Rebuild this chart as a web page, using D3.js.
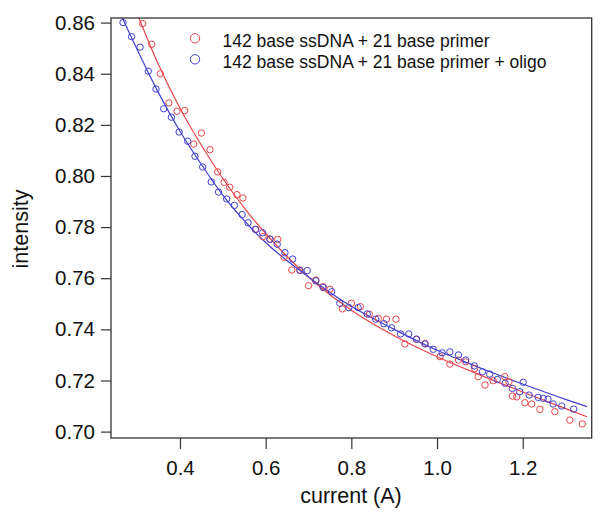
<!DOCTYPE html>
<html>
<head>
<meta charset="utf-8">
<script src="https://cdn.jsdelivr.net/npm/d3@7"></script>
<style>
  html, body { margin: 0; padding: 0; background: #fff; }
  svg { display: block; font-family: "Liberation Sans", Arial, sans-serif; }
</style>
</head>
<body>
<svg id="chart" width="602" height="517"></svg>
<script>
// ---- data ----
const seriesNames = ["142 base ssDNA + 21 base primer", "142 base ssDNA + 21 base primer + oligo"];

const redX = [0.313,0.334,0.354,0.374,0.393,0.411,0.432,0.450,0.470,0.488,0.503,0.516,0.533,0.547,0.577,0.594,0.610,0.628,0.643,0.661,0.680,0.700,0.717,0.734,0.750,0.779,0.800,0.821,0.842,0.863,0.882,0.904,0.925,0.952,0.972,1.007,1.030,1.050,1.067,1.088,1.096,1.112,1.131,1.158,1.168,1.176,1.186,1.205,1.221,1.240,1.275,1.310,1.339];
const redY = [0.8596,0.8515,0.8400,0.8286,0.8253,0.8256,0.8125,0.8168,0.8103,0.8016,0.7975,0.7956,0.7927,0.7914,0.7791,0.7763,0.7752,0.7752,0.7682,0.7632,0.7632,0.7571,0.7593,0.7567,0.7557,0.7480,0.7502,0.7489,0.7459,0.7443,0.7440,0.7440,0.7343,0.7361,0.7345,0.7293,0.7264,0.7280,0.7273,0.7247,0.7215,0.7182,0.7199,0.7215,0.7195,0.7139,0.7136,0.7113,0.7108,0.7087,0.7078,0.7045,0.7030];

const blueX = [0.267,0.287,0.307,0.326,0.344,0.362,0.380,0.398,0.418,0.435,0.453,0.473,0.490,0.509,0.527,0.545,0.559,0.576,0.593,0.610,0.627,0.645,0.663,0.680,0.697,0.717,0.734,0.754,0.773,0.794,0.816,0.837,0.857,0.876,0.894,0.915,0.934,0.952,0.972,0.991,1.012,1.030,1.050,1.067,1.087,1.106,1.123,1.141,1.159,1.176,1.193,1.201,1.215,1.236,1.248,1.259,1.271,1.291,1.319];
const blueY = [0.8600,0.8545,0.8504,0.8410,0.8340,0.8263,0.8230,0.8172,0.8136,0.8077,0.8035,0.7977,0.7937,0.7910,0.7885,0.7849,0.7817,0.7791,0.7778,0.7753,0.7733,0.7700,0.7675,0.7630,0.7630,0.7590,0.7564,0.7547,0.7502,0.7485,0.7485,0.7460,0.7440,0.7422,0.7406,0.7382,0.7382,0.7362,0.7343,0.7322,0.7308,0.7312,0.7300,0.7280,0.7257,0.7234,0.7225,0.7204,0.7189,0.7169,0.7156,0.7193,0.7143,0.7134,0.7130,0.7127,0.7108,0.7100,0.7088];

// fitted curves
const redFitX = [0.300,0.350,0.400,0.450,0.500,0.550,0.600,0.650,0.700,0.750,0.800,0.900,1.000,1.100,1.200,1.300,1.350];
const redFitY = [0.8635,0.8435,0.8265,0.8120,0.7990,0.7875,0.7775,0.7685,0.7605,0.7535,0.7475,0.7375,0.7293,0.7222,0.7155,0.7090,0.7058];
const blueFitX = [0.265,0.300,0.350,0.400,0.450,0.500,0.550,0.600,0.700,0.800,0.900,1.000,1.100,1.200,1.300,1.350];
const blueFitY = [0.8620,0.8495,0.8325,0.8175,0.8045,0.7925,0.7825,0.7740,0.7605,0.7490,0.7400,0.7318,0.7250,0.7186,0.7126,0.7098];

const xTicks = [0.4, 0.6, 0.8, 1.0, 1.2];
const yTicks = [0.70, 0.72, 0.74, 0.76, 0.78, 0.80, 0.82, 0.84, 0.86];

const colors = ["#e8454a", "#3f3fd0"];

// ---- layout ----
const L = 111, R = 591.7, T = 18, B = 438;
const svg = d3.select("#chart");
const x = d3.scaleLinear().domain([0.239, 1.361]).range([L, R]);
const y = d3.scaleLinear().domain([0.6975, 0.8618]).range([B, T]);

svg.append("defs").append("clipPath").attr("id", "clip")
  .append("rect").attr("x", L).attr("y", T).attr("width", R - L).attr("height", B - T);

const plot = svg.append("g").attr("clip-path", "url(#clip)");

const line = d3.line().x(d => x(d[0])).y(d => y(d[1])).curve(d3.curveMonotoneX);

const series = [
  { pts: d3.zip(redX, redY), fit: d3.zip(redFitX, redFitY), color: colors[0] },
  { pts: d3.zip(blueX, blueY), fit: d3.zip(blueFitX, blueFitY), color: colors[1] }
];

series.forEach(s => {
  plot.append("path").datum(s.fit)
    .attr("d", line).attr("fill", "none")
    .attr("stroke", s.color).attr("stroke-width", 1.2);
});
series.forEach(s => {
  plot.selectAll(null).data(s.pts).enter().append("circle")
    .attr("cx", d => x(d[0])).attr("cy", d => y(d[1])).attr("r", 3.2)
    .attr("fill", "none").attr("stroke", s.color).attr("stroke-width", 1);
});

// axes
const axisColor = "#333";
const gx = svg.append("g").attr("transform", `translate(0,${B})`)
  .call(d3.axisBottom(x).tickValues(xTicks).tickFormat(d3.format(".1f")).tickSize(11).tickPadding(11));
const gy = svg.append("g").attr("transform", `translate(${L},0)`)
  .call(d3.axisLeft(y).tickValues(yTicks).tickFormat(d3.format(".2f")).tickSize(10).tickPadding(6));
[gx, gy].forEach(g => {
  g.select(".domain").remove();
  g.selectAll(".tick line").attr("stroke", axisColor).attr("stroke-width", 1.2);
  g.selectAll(".tick text").attr("fill", "#111").style("font-size", "20.5px")
    .style("font-family", "'Liberation Sans', Arial, sans-serif");
});

svg.append("rect").attr("x", L).attr("y", T).attr("width", R - L).attr("height", B - T)
  .attr("fill", "none").attr("stroke", axisColor).attr("stroke-width", 1.3);

// axis titles
svg.append("text").attr("x", 351).attr("y", 503).attr("text-anchor", "middle")
  .style("font-size", "21.5px").attr("fill", "#111").text("current (A)");
svg.append("text").attr("transform", "translate(27.5,229) rotate(-90)").attr("text-anchor", "middle")
  .style("font-size", "21.5px").attr("fill", "#111").text("intensity");

// legend
const leg = svg.append("g");
seriesNames.forEach((name, i) => {
  const cy = 38.3 + i * 21;
  leg.append("circle").attr("cx", 195).attr("cy", cy).attr("r", 4.7)
    .attr("fill", "none").attr("stroke", colors[i]).attr("stroke-width", 1);
  leg.append("text").attr("x", 222.5).attr("y", cy + 9)
    .style("font-size", "17.5px").attr("fill", "#111").text(name);
});
</script>
</body>
</html>
